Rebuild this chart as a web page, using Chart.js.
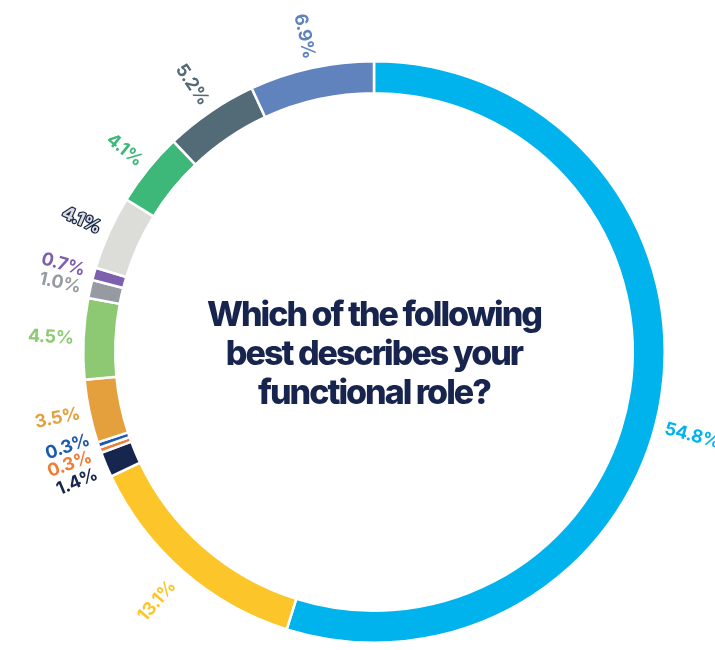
<!DOCTYPE html>
<html>
<head>
<meta charset="utf-8">
<style>
  html, body { margin: 0; padding: 0; background: #fff; }
  #wrap { width: 715px; height: 650px; position: relative; }
</style>
</head>
<body>
<div id="wrap"><canvas id="chart"></canvas></div>
<script src="https://cdn.jsdelivr.net/npm/chart.js@4.4.1/dist/chart.umd.min.js"></script>
<script>
// Data ------------------------------------------------------------------
var shares = [54.8, 13.1, 1.4, 0.3, 0.3, 3.5, 4.5, 1.0, 0.7, 4.1, 4.1, 5.2, 6.9];
var shareLabels = ["54.8%", "13.1%", "1.4%", "0.3%", "0.3%", "3.5%", "4.5%", "1.0%", "0.7%", "4.1%", "4.1%", "5.2%", "6.9%"];
var titleLines = ["Which of the following", "best describes your", "functional role?"];

// Styles ----------------------------------------------------------------
var sliceColors = ["#00b3ec", "#fcc62a", "#17264f", "#f07c36", "#1a5bb0", "#e3a03c",
                   "#8dc973", "#959ba0", "#7e5fae", "#dcddd8", "#3db878", "#526b76", "#6083bd"];
var NAVY = "#17244d";

(function () {
  // labels drawn outside the ring, running along the radius
  var outsideLabels = {
    id: "outsideLabels",
    afterDatasetsDraw: function (chart) {
      var ctx = chart.ctx;
      var arcs = chart.getDatasetMeta(0).data;
      var left = [], right = [];
      arcs.forEach(function (arc, i) {
        var p = arc.getProps(["x", "y", "startAngle", "endAngle", "outerRadius"], true);
        var a = (p.startAngle + p.endAngle) / 2;
        if (i === 0) a += 6 * Math.PI / 180; // nudge the big slice's label so it sits like the original
        var r = p.outerRadius + (i === 1 ? 16 : 10);
        var item = { i: i, a: a, x: p.x + r * Math.cos(a), y: p.y + r * Math.sin(a) };
        (Math.cos(a) >= 0 ? right : left).push(item);
      });
      function spread(list, gap) {
        list.sort(function (m, n) { return m.y - n.y; });
        for (var k = 0; k < 200; k++) {
          var moved = false;
          for (var j = 1; j < list.length; j++) {
            var d = list[j].y - list[j - 1].y;
            if (d < gap - 0.01) { var s = (gap - d) / 2; list[j - 1].y -= s; list[j].y += s; moved = true; }
          }
          if (!moved) break;
        }
      }
      spread(left, 17);
      ctx.save();
      ctx.font = "700 18px Inter, 'Open Sans', sans-serif";
      if ("letterSpacing" in ctx) ctx.letterSpacing = "-0.4px";
      ctx.textBaseline = "middle";
      left.concat(right).forEach(function (it) {
        var isRight = Math.cos(it.a) >= 0;
        ctx.save();
        ctx.translate(it.x, it.y);
        ctx.rotate(isRight ? it.a : it.a + Math.PI);
        ctx.textAlign = isRight ? "left" : "right";
        ctx.fillStyle = sliceColors[it.i];
        if (it.i === 9) { // pale slice: outlined label
          ctx.lineWidth = 2.4;
          ctx.strokeStyle = NAVY;
          ctx.lineJoin = "round";
          ctx.strokeText(shareLabels[it.i], 0, 0);
        }
        ctx.fillText(shareLabels[it.i], 0, 0);
        ctx.restore();
      });
      ctx.restore();
    }
  };

  var centerTitle = {
    id: "centerTitle",
    afterDraw: function (chart) {
      var ctx = chart.ctx;
      var arc = chart.getDatasetMeta(0).data[0];
      ctx.save();
      ctx.font = "800 34px Inter, 'Noto Sans', sans-serif";
      if ("letterSpacing" in ctx) ctx.letterSpacing = "-2px";
      ctx.fillStyle = NAVY;
      ctx.textAlign = "center";
      ctx.textBaseline = "alphabetic";
      titleLines.forEach(function (line, k) {
        ctx.fillText(line, arc.x, 326 + k * 39);
      });
      ctx.restore();
    }
  };

  new Chart(document.getElementById("chart"), {
    type: "doughnut",
    data: {
      labels: shareLabels,
      datasets: [{
        data: shares,
        backgroundColor: sliceColors,
        borderColor: "#ffffff",
        borderWidth: 2.5,
        hoverOffset: 0
      }]
    },
    options: {
      responsive: true,
      maintainAspectRatio: false,
      animation: false,
      cutout: "89%",
      layout: { padding: { top: 60, bottom: 6, left: 82, right: 49 } },
      plugins: { legend: { display: false }, tooltip: { enabled: false } }
    },
    plugins: [outsideLabels, centerTitle]
  });
})();
</script>
</body>
</html>
